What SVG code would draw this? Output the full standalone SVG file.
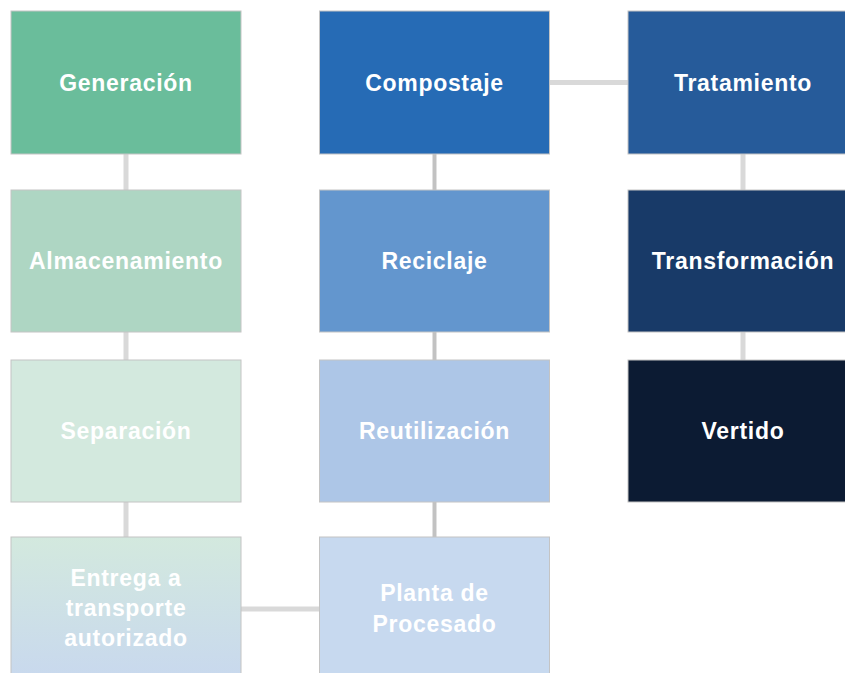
<svg xmlns="http://www.w3.org/2000/svg" width="845" height="673" viewBox="0 0 845 673">
<style>
.box{stroke:#c4c4c4;stroke-width:1}
.t{font-family:"Liberation Sans","DejaVu Sans",sans-serif;font-weight:bold;font-size:23px;fill:#ffffff;text-anchor:middle;letter-spacing:0.7px}
.c{stroke:#d9d9d9;stroke-width:5;fill:none}
.c2{stroke:#c2c2c2;stroke-width:4;fill:none}
</style>
<defs>
<linearGradient id="g1" x1="0" y1="0" x2="0" y2="1">
<stop offset="0" stop-color="#d3e9de"/>
<stop offset="1" stop-color="#c8d8ee"/>
</linearGradient>
</defs>
<rect width="845" height="673" fill="#ffffff"/>
<g id="connectors">
<line class="c" x1="126" y1="154" x2="126" y2="190"/>
<line class="c" x1="126" y1="332" x2="126" y2="360"/>
<line class="c" x1="126" y1="502" x2="126" y2="537"/>
<line class="c2" x1="434.5" y1="154" x2="434.5" y2="190"/>
<line class="c2" x1="434.5" y1="332" x2="434.5" y2="360"/>
<line class="c2" x1="434.5" y1="502" x2="434.5" y2="537"/>
<line class="c" x1="743" y1="154" x2="743" y2="190"/>
<line class="c" x1="743" y1="332" x2="743" y2="360"/>
<line class="c" x1="549" y1="82.5" x2="628" y2="82.5"/>
<line class="c" x1="241" y1="609" x2="319.5" y2="609"/>
</g>
<g id="generacion"><rect class="box" x="11" y="11" width="230" height="143" fill="#6abd9b"/><text class="t" x="126" y="90.5">Generación</text></g>
<g id="almacenamiento"><rect class="box" x="11" y="190" width="230" height="142" fill="#aed6c3"/><text class="t" x="126" y="268.5">Almacenamiento</text></g>
<g id="separacion"><rect class="box" x="11" y="360" width="230" height="142" fill="#d3e9de"/><text class="t" x="126" y="438.5">Separación</text></g>
<g id="entrega"><rect class="box" x="11" y="537" width="230" height="144" fill="url(#g1)"/><text class="t" x="126" y="586">Entrega a</text><text class="t" x="126" y="616">transporte</text><text class="t" x="126" y="646">autorizado</text></g>
<g id="compostaje"><rect class="box" x="319.5" y="11" width="230" height="143" fill="#266bb5"/><text class="t" x="434.5" y="90.5">Compostaje</text></g>
<g id="reciclaje"><rect class="box" x="319.5" y="190" width="230" height="142" fill="#6396ce"/><text class="t" x="434.5" y="268.5">Reciclaje</text></g>
<g id="reutilizacion"><rect class="box" x="319.5" y="360" width="230" height="142" fill="#adc6e7"/><text class="t" x="434.5" y="438.5">Reutilización</text></g>
<g id="planta"><rect class="box" x="319.5" y="537" width="230" height="144" fill="#c7d9ef"/><text class="t" x="434.5" y="601">Planta de</text><text class="t" x="434.5" y="632">Procesado</text></g>
<g id="tratamiento"><rect class="box" x="628" y="11" width="230" height="143" fill="#265b9a"/><text class="t" x="743" y="90.5">Tratamiento</text></g>
<g id="transformacion"><rect class="box" x="628" y="190" width="230" height="142" fill="#183a68"/><text class="t" x="743" y="268.5">Transformación</text></g>
<g id="vertido"><rect class="box" x="628" y="360" width="230" height="142" fill="#0c1b33"/><text class="t" x="743" y="438.5">Vertido</text></g>
</svg>
